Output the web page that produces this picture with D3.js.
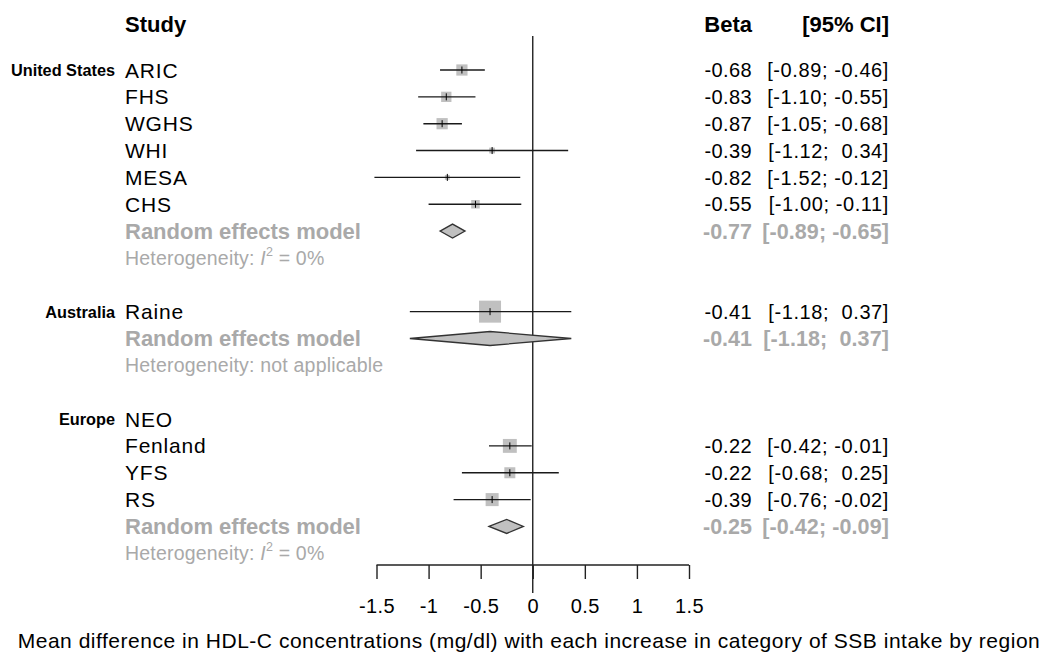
<!DOCTYPE html>
<html>
<head>
<meta charset="utf-8">
<script src="https://cdn.jsdelivr.net/npm/d3@7"></script>
<style>
  html, body { margin: 0; padding: 0; background: #fff; }
  svg { display: block; font-family: "Liberation Sans", Arial, Helvetica, sans-serif; }
  text { white-space: pre; }
</style>
</head>
<body>
<svg id="chart" width="1048" height="656"></svg>
<script>
// Subgroups and their studies
const regions = ["United States", "Australia", "Europe"];
const studies = ["ARIC", "FHS", "WGHS", "WHI", "MESA", "CHS", "Raine", "NEO", "Fenland", "YFS", "RS"];
const studyRegion = [0, 0, 0, 0, 0, 0, 1, 2, 2, 2, 2];

// Study estimates (Beta) with 95% CI; NEO has no estimate
const beta  = [-0.68, -0.83, -0.87, -0.39, -0.82, -0.55, -0.41, null, -0.22, -0.22, -0.39];
const lower = [-0.89, -1.10, -1.05, -1.12, -1.52, -1.00, -1.18, null, -0.42, -0.68, -0.76];
const upper = [-0.46, -0.55, -0.68,  0.34, -0.12, -0.11,  0.37, null, -0.01,  0.25, -0.02];
// Relative weight within subgroup (%)
const weight = [26, 22, 26, 7, 5, 15, 100, null, 40, 25, 35];

// Random effects pooled estimates per subgroup
const pooledBeta  = [-0.77, -0.41, -0.25];
const pooledLower = [-0.89, -1.18, -0.42];
const pooledUpper = [-0.65,  0.37, -0.09];
const i2 = [0, null, 0];

const xTicks = [-1.5, -1, -0.5, 0, 0.5, 1, 1.5];
const xLabel = "Mean difference in HDL-C concentrations (mg/dl) with each increase in category of SSB intake by region";

const svg = d3.select("#chart");
const black = "#000";
const grey = "#a9a9a9";
const boxFill = "#c0c0c0";

// Build the row sequence: study rows, pooled row, heterogeneity row, spacer
const rows = [];
regions.forEach((r, ri) => {
  const idx = studies.map((s, i) => i).filter(i => studyRegion[i] === ri);
  idx.forEach((i, k) => rows.push({type: "study", i, region: k === 0 ? ri : null}));
  rows.push({type: "pooled", ri});
  rows.push({type: "het", ri});
  if (ri < regions.length - 1) rows.push({type: "blank"});
});

const x = d3.scaleLinear().domain([-1.5, 1.5]).range([376.5, 689]);
const y = d3.scaleLinear().domain([0, rows.length - 1]).range([70, 70 + (rows.length - 1) * 26.85]);
const side = d3.scaleSqrt().domain([0, 100]).range([0, 22]);

const fmt = v => d3.format(".2f")(v).replace("\u2212", "-");
const fmtCI = (lo, hi) => "[" + fmt(lo) + ";" + (hi >= 0 ? "  " : " ") + fmt(hi) + "]";

const colStudy = 125, colRegion = 115, colBeta = 752, colCI = 889;

// Column headers
const head = svg.append("g").attr("font-weight", "bold").attr("font-size", 22).attr("fill", black);
head.append("text").attr("x", colStudy).attr("y", 32).text("Study");
head.append("text").attr("x", colBeta).attr("y", 32).attr("text-anchor", "end").text("Beta");
head.append("text").attr("x", colCI).attr("y", 32).attr("text-anchor", "end").text("[95% CI]");

// Zero reference line
svg.append("line")
  .attr("x1", x(0)).attr("x2", x(0)).attr("y1", 36).attr("y2", 593)
  .attr("stroke", "#222").attr("stroke-width", 1.4);

const g = svg.append("g");
rows.forEach((row, ri) => {
  const cy = y(ri);
  if (row.type === "study") {
    const i = row.i;
    if (row.region !== null) {
      g.append("text").attr("x", colRegion).attr("y", cy).attr("dy", "0.36em")
        .attr("text-anchor", "end").attr("font-weight", "bold").attr("font-size", 16.3)
        .attr("fill", black).text(regions[row.region]);
    }
    g.append("text").attr("x", colStudy).attr("y", cy).attr("dy", "0.36em")
      .attr("font-size", 21).attr("fill", black).attr("letter-spacing", 0.8).text(studies[i]);
    if (beta[i] === null) return;
    const s = side(weight[i]);
    g.append("rect").attr("x", x(beta[i]) - s / 2).attr("y", cy - s / 2)
      .attr("width", s).attr("height", s).attr("fill", boxFill);
    g.append("line").attr("x1", x(lower[i])).attr("x2", x(upper[i]))
      .attr("y1", cy).attr("y2", cy).attr("stroke", "#1a1a1a").attr("stroke-width", 1.4);
    g.append("line").attr("x1", x(beta[i])).attr("x2", x(beta[i]))
      .attr("y1", cy - 3.5).attr("y2", cy + 3.5).attr("stroke", black).attr("stroke-width", 1);
    g.append("text").attr("x", colBeta).attr("y", cy).attr("dy", "0.36em").attr("text-anchor", "end")
      .attr("font-size", 20).attr("fill", black).attr("letter-spacing", 0.4).text(fmt(beta[i]));
    g.append("text").attr("x", colCI).attr("y", cy).attr("dy", "0.36em").attr("text-anchor", "end")
      .attr("font-size", 20).attr("fill", black).attr("letter-spacing", 0.6).text(fmtCI(lower[i], upper[i]));
  } else if (row.type === "pooled") {
    const k = row.ri;
    g.append("text").attr("x", colStudy).attr("y", cy).attr("dy", "0.36em")
      .attr("font-size", 22).attr("font-weight", "bold").attr("fill", grey)
      .text("Random effects model");
    const h = 7;
    const pts = [[x(pooledLower[k]), cy], [x(pooledBeta[k]), cy - h], [x(pooledUpper[k]), cy], [x(pooledBeta[k]), cy + h]];
    g.append("path").attr("d", d3.line()(pts) + "Z")
      .attr("fill", boxFill).attr("stroke", "#333").attr("stroke-width", 1.3);
    g.append("text").attr("x", colBeta).attr("y", cy).attr("dy", "0.36em").attr("text-anchor", "end")
      .attr("font-size", 21.5).attr("font-weight", "bold").attr("fill", grey).text(fmt(pooledBeta[k]));
    g.append("text").attr("x", colCI).attr("y", cy).attr("dy", "0.36em").attr("text-anchor", "end")
      .attr("font-size", 21.5).attr("font-weight", "bold").attr("fill", grey).attr("letter-spacing", 0.1)
      .text(fmtCI(pooledLower[k], pooledUpper[k]));
  } else if (row.type === "het") {
    const k = row.ri;
    const t = g.append("text").attr("x", colStudy).attr("y", cy).attr("dy", "0.36em")
      .attr("font-size", 19.5).attr("fill", grey).attr("letter-spacing", 0.2);
    if (i2[k] === null) {
      t.text("Heterogeneity: not applicable");
    } else {
      t.append("tspan").text("Heterogeneity: ");
      t.append("tspan").attr("font-style", "italic").text("I");
      t.append("tspan").attr("font-size", 12.5).attr("dy", "-0.75em").text("2");
      t.append("tspan").attr("dy", "0.48em").text(" = " + i2[k] + "%");
    }
  }
});

// Bottom axis
const axisY = 565;
const axis = svg.append("g").attr("transform", `translate(0,${axisY})`)
  .call(d3.axisBottom(x).tickValues(xTicks).tickSize(14).tickPadding(20)
    .tickFormat(v => String(v).replace("\u2212", "-")));
axis.select(".domain").attr("d", `M${x(-1.5)},0H${x(1.5)}`).attr("stroke", "#222").attr("stroke-width", 1.4);
axis.selectAll(".tick line").attr("stroke", "#222").attr("stroke-width", 1.4);
axis.selectAll(".tick text").attr("font-size", 20).attr("fill", black)
  .attr("font-family", "Liberation Sans, Arial, sans-serif").attr("letter-spacing", 0.4);

svg.append("text").attr("x", 529).attr("y", 648).attr("text-anchor", "middle")
  .attr("font-size", 21).attr("fill", black).attr("letter-spacing", 0.52).text(xLabel);
</script>
</body>
</html>
